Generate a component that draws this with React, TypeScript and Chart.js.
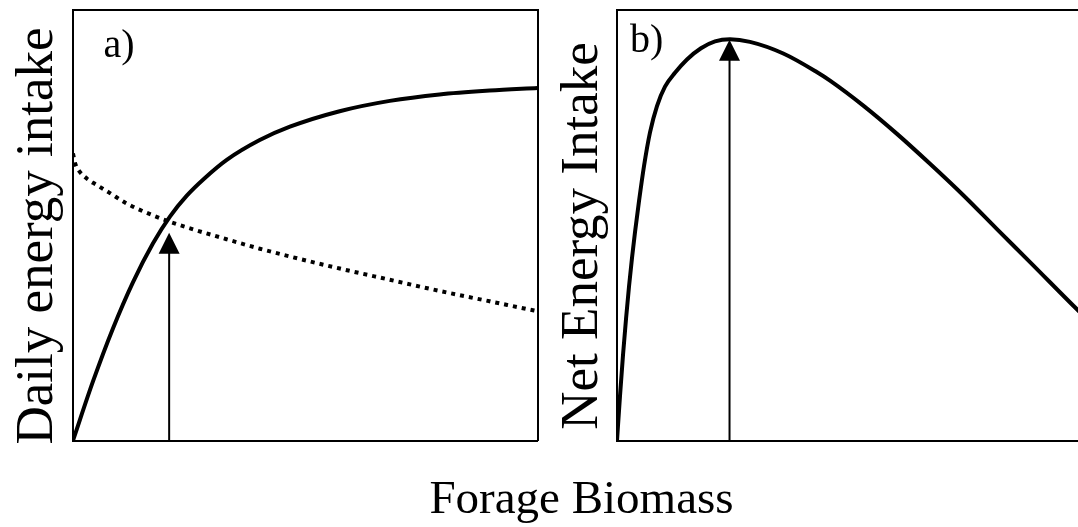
import React, { useEffect, useRef } from "react";
import { Chart, registerables } from "chart.js";

Chart.register(...registerables);

const FONT = "'Liberation Serif', 'Times New Roman', serif";

// Panel a) – daily energy intake (solid) vs forage biomass
const intakeX = [0, 4.3, 8.6, 12.9, 17.2, 20.9, 24.5, 28.4, 33.1, 40.2, 46.7, 57.4, 68.2, 78.9, 89.7, 100];
const intakeY = [0, 13.7, 26.0, 36.7, 45.7, 52.0, 56.8, 60.9, 65.1, 69.7, 72.8, 76.4, 78.8, 80.3, 81.2, 81.8];

// Panel a) – dotted curve
const dottedX = [0, 0.43, 1.14, 2.95, 5.1, 7.96, 11.55, 18.71, 25.87, 33.05, 40.22, 46.67, 57.42, 68.17, 78.92, 89.68, 100];
const dottedY = [66.6, 64.4, 62.8, 60.8, 59.3, 57.4, 55.0, 51.6, 49.0, 46.7, 44.5, 42.7, 39.9, 37.3, 34.7, 32.3, 30.0];

// Panel b) – net energy intake
const netX = [0, 0.65, 1.29, 1.94, 2.58, 3.23, 3.87, 4.73, 5.81, 7.1, 8.6, 10.32, 12.47, 15.05, 18.06, 21.08, 24.3, 28.6, 35.76, 42.95, 45.81, 52.97, 60.15, 67.31, 74.47, 81.66, 88.82, 98.86, 100];
const netY = [0, 10.4, 19.8, 28.2, 35.7, 42.4, 48.3, 55.5, 63.7, 71.5, 77.6, 82.1, 85.3, 88.4, 91.0, 92.6, 93.1, 92.5, 89.8, 85.5, 83.5, 77.7, 71.2, 64.2, 56.9, 49.1, 41.4, 30.5, 29.3];

// Arrows (x position and tip height in data units)
const arrowA = { x: 20.7, tip: 48.2 };
const arrowB = { x: 24.2, tip: 93.0 };

const labelA = "a)";
const labelB = "b)";
const yTitleA = "Daily energy intake";
const yTitleB = "Net Energy Intake";
const xTitle = "Forage Biomass";

const toPts = (xs: number[], ys: number[]) => xs.map((x, i) => ({ x, y: ys[i] }));

function decorPlugin(o: {
  arrow: { x: number; tip: number };
  letter: string;
  letterDx: number;
  letterDy: number;
  title: string;
  titleX: number;
  titleY: number;
}) {
  return {
    id: "decor",
    afterDatasetsDraw(chart: any) {
      const { ctx, chartArea } = chart;
      const xs = chart.scales.x;
      const ys = chart.scales.y;
      const ax = xs.getPixelForValue(o.arrow.x);
      const y0 = ys.getPixelForValue(0);
      const yt = ys.getPixelForValue(o.arrow.tip);
      ctx.save();
      ctx.strokeStyle = "#000";
      ctx.fillStyle = "#000";
      ctx.lineWidth = 2;
      ctx.beginPath();
      ctx.moveTo(ax, y0);
      ctx.lineTo(ax, yt + 18);
      ctx.stroke();
      ctx.beginPath();
      ctx.moveTo(ax, yt);
      ctx.lineTo(ax - 10.5, yt + 21);
      ctx.lineTo(ax + 10.5, yt + 21);
      ctx.closePath();
      ctx.fill();

      ctx.font = `40px ${FONT}`;
      ctx.textAlign = "left";
      ctx.textBaseline = "alphabetic";
      ctx.fillText(o.letter, chartArea.left + o.letterDx, chartArea.top + o.letterDy);

      ctx.font = `53px ${FONT}`;
      ctx.translate(o.titleX, o.titleY);
      ctx.rotate(-Math.PI / 2);
      ctx.textAlign = "center";
      ctx.fillText(o.title, 0, 0);
      ctx.restore();
    },
  };
}

function axes(yWidth: number) {
  const hidden = {
    type: "linear" as const,
    min: 0,
    max: 100,
    display: true,
    grid: { display: false },
    ticks: { display: false },
    border: { display: true, color: "#000", width: 2 },
  };
  return {
    x: { ...hidden, position: "bottom", afterFit: (s: any) => { s.height = 0; } },
    y: { ...hidden, position: "left", afterFit: (s: any) => { s.width = yWidth; } },
    x2: { ...hidden, position: "top", afterFit: (s: any) => { s.height = 0; } },
    y2: { ...hidden, position: "right", afterFit: (s: any) => { s.width = 0; } },
  };
}

export default function App() {
  const refA = useRef<HTMLCanvasElement>(null);
  const refB = useRef<HTMLCanvasElement>(null);

  useEffect(() => {
    const common = {
      animation: false,
      responsive: true,
      maintainAspectRatio: false,
      events: [],
      plugins: { legend: { display: false }, tooltip: { enabled: false } },
    };
    const chartA = new Chart(refA.current as HTMLCanvasElement, {
      type: "line",
      data: {
        datasets: [
          {
            data: toPts(intakeX, intakeY),
            borderColor: "#000",
            borderWidth: 4,
            pointRadius: 0,
            cubicInterpolationMode: "monotone",
            fill: false,
          },
          {
            data: toPts(dottedX, dottedY),
            borderColor: "#000",
            borderWidth: 4,
            borderDash: [4, 5],
            pointRadius: 0,
            cubicInterpolationMode: "monotone",
            fill: false,
          },
        ],
      },
      options: {
        ...common,
        layout: { padding: { left: 0, top: 9.5, right: 7.5, bottom: 86.5 } },
        scales: axes(73) as any,
      } as any,
      plugins: [
        decorPlugin({
          arrow: arrowA,
          letter: labelA,
          letterDx: 30.5,
          letterDy: 47.5,
          title: yTitleA,
          titleX: 52,
          titleY: 236,
        }),
      ],
    } as any);

    const chartB = new Chart(refB.current as HTMLCanvasElement, {
      type: "line",
      data: {
        datasets: [
          {
            data: toPts(netX, netY),
            borderColor: "#000",
            borderWidth: 4,
            pointRadius: 0,
            cubicInterpolationMode: "monotone",
            fill: false,
          },
        ],
      },
      options: {
        ...common,
        layout: { padding: { left: 0, top: 9.5, right: 18, bottom: 86.5 } },
        scales: axes(77) as any,
      } as any,
      plugins: [
        decorPlugin({
          arrow: arrowB,
          letter: labelB,
          letterDx: 13,
          letterDy: 42.5,
          title: yTitleB,
          titleX: 57,
          titleY: 236,
        }),
      ],
    } as any);

    return () => {
      chartA.destroy();
      chartB.destroy();
    };
  }, []);

  return (
    <div
      style={{
        position: "absolute",
        left: 0,
        top: 0,
        width: 1078,
        height: 527,
        overflow: "hidden",
        background: "#fff",
      }}
    >
      <div style={{ position: "absolute", left: 0, top: 0, width: 545, height: 527 }}>
        <canvas ref={refA} />
      </div>
      <div style={{ position: "absolute", left: 540, top: 0, width: 560, height: 527 }}>
        <canvas ref={refB} />
      </div>
      <div
        style={{
          position: "absolute",
          left: 381.5,
          top: 474,
          width: 400,
          textAlign: "center",
          fontFamily: FONT,
          fontSize: 47,
          lineHeight: "47px",
          color: "#000",
          whiteSpace: "nowrap",
        }}
      >
        {xTitle}
      </div>
    </div>
  );
}
